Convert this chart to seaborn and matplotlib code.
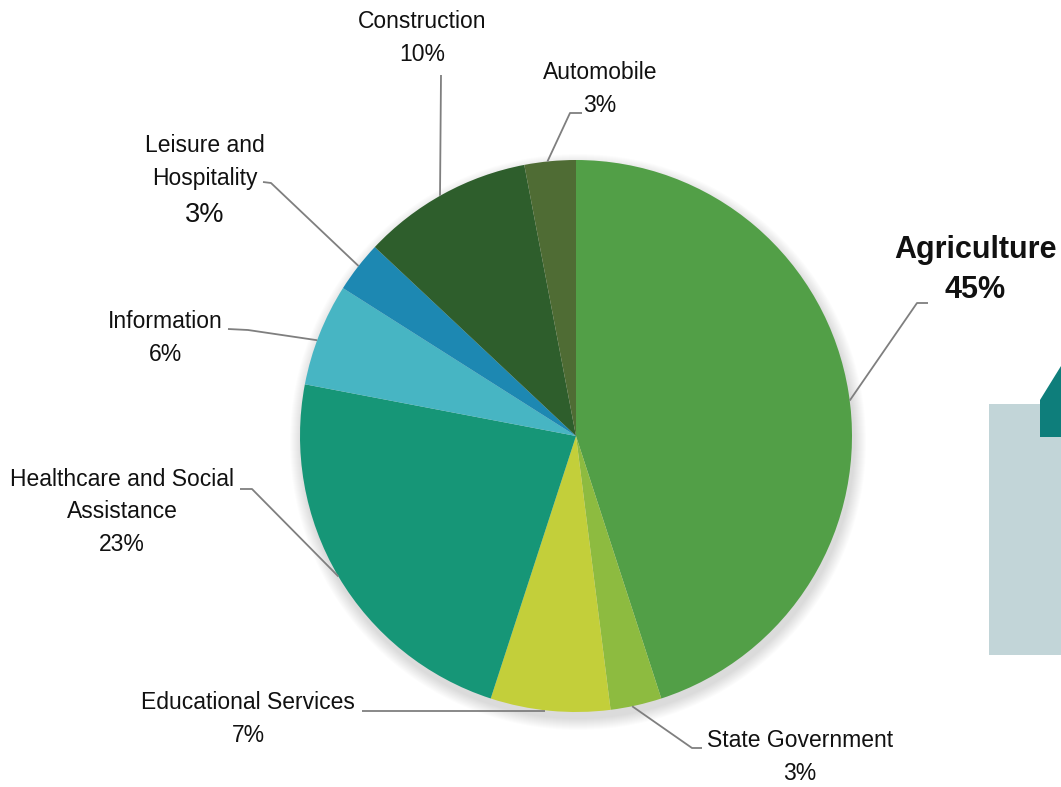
import matplotlib
matplotlib.use("Agg")
import matplotlib.pyplot as plt
import numpy as np
import seaborn as sns
from matplotlib.patches import Polygon, Rectangle

sns.set_theme(style="white")
plt.rcParams['font.family'] = ['Liberation Sans', 'DejaVu Sans']

# ==============================================================================
# Dados
# ==============================================================================
setores = ['Agriculture', 'State Government', 'Educational Services',
           'Healthcare and Social\nAssistance', 'Information',
           'Leisure and\nHospitality', 'Construction', 'Automobile']
percentuais = [45, 3, 7, 23, 6, 3, 10, 3]
cores = ['#529F47', '#8DBB40', '#C3CF3A', '#169677',
         '#47B5C3', '#1D88B2', '#2E5E2C', '#4F6C34']

# ==============================================================================
# Figura (coordenadas em pixels, y para cima)
# ==============================================================================
W, H = 1061, 787
fig = plt.figure(figsize=(W / 100, H / 100), dpi=100)
ax = fig.add_axes([0, 0, 1, 1])

cx, cy, r = 576, H - 436, 276

# sombra suave atrás da pizza
for k in range(12):
    ax.add_patch(plt.Circle((cx + 2, cy - 6), r + 12 - k, color='black',
                            alpha=0.012, lw=0, zorder=1))

wedges, _ = ax.pie(percentuais, colors=cores, startangle=90, counterclock=False,
                   center=(cx, cy), radius=r, frame=True,
                   wedgeprops=dict(linewidth=0, zorder=2))
ax.set_xlim(0, W)
ax.set_ylim(0, H)
ax.axis('off')

# rótulos: posição do texto, cotovelo da linha, ponto na borda (fração do ângulo)
layout = {
    'Agriculture': dict(tx=975, ty=270, elbow=[(928, 303), (917, 303)], frac=0.49),
    'State Government': dict(tx=800, ty=757, elbow=[(702, 748), (692, 748)], frac=0.42),
    'Educational Services': dict(tx=248, ty=719, elbow=[(362, 711), (545, 711)], frac=None),
    'Healthcare and Social\nAssistance': dict(tx=122, ty=512, elbow=[(240, 489), (252, 489)], frac=0.5),
    'Information': dict(tx=165, ty=338, elbow=[(228, 329), (248, 330)], frac=0.56),
    'Leisure and\nHospitality': dict(tx=205, ty=178, elbow=[(263, 182), (271, 183)], frac=0.48),
    'Construction': dict(tx=422, ty=38, elbow=[(441, 75)], frac=0.52),
    'Automobile': dict(tx=600, ty=89, elbow=[(582, 113), (570, 113)], frac=0.55),
}

for w, nome, pct in zip(wedges, setores, percentuais):
    cfg = layout[nome]
    pts = [(x, H - y) for x, y in cfg['elbow']]
    if cfg['frac'] is not None:
        ang = np.deg2rad(w.theta1 + (w.theta2 - w.theta1) * cfg['frac'])
        pts.append((cx + r * np.cos(ang), cy + r * np.sin(ang)))
    xs, ys = zip(*pts)
    ax.plot(xs, ys, color='#7F7F7F', lw=1.3, zorder=3, solid_capstyle='butt')
    if nome == 'Agriculture':
        ax.text(cfg['tx'], H - cfg['ty'], f"{nome}\n{pct}%", ha='center', va='center',
                fontsize=22, fontweight='bold', linespacing=1.45, color='#111111')
    elif nome.startswith('Leisure'):
        ax.text(cfg['tx'], H - cfg['ty'] + 16, nome, ha='center', va='center',
                fontsize=16.5, linespacing=1.54, color='#111111')
        ax.text(cfg['tx'], H - cfg['ty'] - 37, f"{pct}%", ha='center', va='center',
                fontsize=19.5, color='#111111')
    else:
        ax.text(cfg['tx'], H - cfg['ty'], f"{nome}\n{pct}%", ha='center', va='center',
                fontsize=16.5, linespacing=1.54, color='#111111')

# elementos decorativos à direita
ax.add_patch(Rectangle((989, H - 655), W - 989, 655 - 404, color='#C2D5D8', lw=0))
ax.add_patch(Polygon([(1040, H - 437), (1040, H - 400), (1061, H - 366), (1061, H - 437)],
                     closed=True, color='#0E7E7B', lw=0))

fig.savefig('out.png', dpi=100)
